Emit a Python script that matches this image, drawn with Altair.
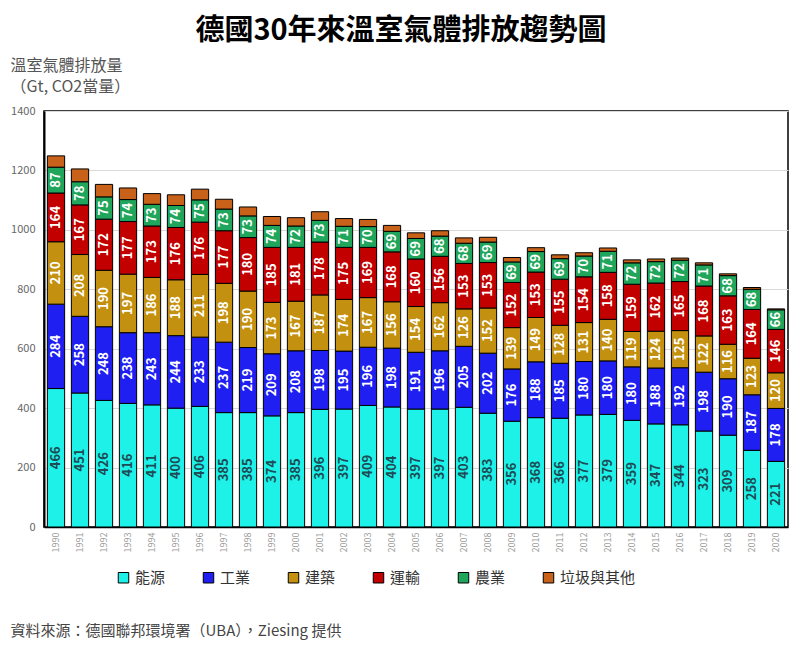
import altair as alt
import pandas as pd

years = [str(y) for y in range(1990, 2021)]
categories = ["能源", "工業", "建築", "運輸", "農業", "垃圾與其他"]
colors = ["#1ef2e8", "#1f1ff2", "#c4900f", "#c20000", "#1fa65c", "#c8621a"]

energy = [466, 451, 426, 416, 411, 400, 406, 385, 385, 374, 385, 396, 397, 409, 404, 397,
          397, 403, 383, 356, 368, 366, 377, 379, 359, 347, 344, 323, 309, 258, 221]
industry = [284, 258, 248, 238, 243, 244, 233, 237, 219, 209, 208, 198, 195, 196, 198, 191,
            196, 205, 202, 176, 188, 185, 180, 180, 180, 188, 192, 198, 190, 187, 178]
buildings = [210, 208, 190, 197, 186, 188, 211, 198, 190, 173, 167, 187, 174, 167, 156, 154,
             162, 126, 152, 139, 149, 128, 131, 140, 119, 124, 125, 122, 116, 123, 120]
transport = [164, 167, 172, 177, 173, 176, 176, 177, 180, 185, 181, 178, 175, 169, 168, 160,
             156, 153, 153, 152, 153, 155, 154, 158, 159, 162, 165, 168, 163, 164, 146]
agriculture = [87, 78, 75, 74, 73, 74, 75, 73, 73, 74, 72, 73, 71, 70, 69, 69,
               68, 68, 69, 69, 69, 69, 70, 71, 72, 72, 72, 71, 68, 68, 66]
waste = [38, 43, 42, 39, 36, 36, 36, 33, 30, 30, 28, 29, 26, 24, 20, 19,
         18, 18, 16, 15, 13, 13, 11, 11, 10, 9, 7, 7, 6, 6, 3]

series = [energy, industry, buildings, transport, agriculture, waste]
rows = []
for ci, (cat, vals) in enumerate(zip(categories, series)):
    for y, v in zip(years, vals):
        rows.append({"year": y, "category": cat, "order": ci, "value": v})
df = pd.DataFrame(rows)

FONT = "Noto Sans CJK TC"

x_enc = alt.X("year:N", sort=years,
              scale=alt.Scale(paddingInner=0.28, paddingOuter=0.14),
              axis=alt.Axis(title="資料來源：德國聯邦環境署（UBA），Ziesing 提供",
                            titleX=-34, titleY=108, titleAngle=0, titleAlign="left",
                            titleBaseline="alphabetic", titleFontSize=15,
                            titleFontWeight="normal", titleColor="#444",
                            labelAngle=270, labelFontSize=9, labelColor="#999",
                            labelPadding=5, ticks=False, domainColor="black",
                            domainWidth=1.5, grid=False))

y_scale = alt.Scale(domain=[0, 1400], nice=False)

bars = alt.Chart(df).mark_bar(stroke="black", strokeWidth=1).encode(
    x=x_enc,
    y=alt.Y("value:Q", stack="zero", scale=y_scale,
            axis=alt.Axis(values=[0, 200, 400, 600, 800, 1000, 1200, 1400], format="d",
                          title=["溫室氣體排放量", "（Gt, CO2當量）"],
                          titleX=-34, titleY=-54, titleAngle=0, titleAlign="left",
                          titleBaseline="top", titleFontSize=16, titleLineHeight=21,
                          titleFontWeight="normal", titleColor="#555",
                          labelFontSize=11, labelColor="#666", labelPadding=9,
                          ticks=False, domainColor="black", domainWidth=2,
                          grid=True, gridColor="#d9d9d9", gridWidth=1)),
    color=alt.Color("category:N", sort=categories,
                    scale=alt.Scale(domain=categories, range=colors),
                    legend=alt.Legend(title=None, orient="none", direction="horizontal",
                                      legendX=72, legendY=459, symbolType="square",
                                      symbolSize=110, symbolStrokeColor="black",
                                      symbolStrokeWidth=1, symbolOpacity=1,
                                      labelFontSize=15, labelColor="#333",
                                      labelOffset=4, columnPadding=35, padding=0)),
    order=alt.Order("order:Q", sort="ascending"),
)

labels = alt.Chart(df).transform_stack(
    stack="value", groupby=["year"], sort=[alt.SortField("order", order="ascending")],
    as_=["y0", "y1"]
).transform_calculate(
    mid="(datum.y0 + datum.y1) / 2"
).transform_filter(
    alt.datum.category != "垃圾與其他"
).mark_text(angle=270, fontSize=13, fontWeight="bold", align="center",
            baseline="middle", font=FONT).encode(
    x=alt.X("year:N", sort=years),
    y=alt.Y("mid:Q", scale=y_scale),
    text=alt.Text("value:Q"),
    color=alt.condition(alt.datum.category == "能源", alt.value("#1f4b54"), alt.value("white")),
)

chart = alt.layer(bars, labels).properties(
    width=744, height=416,
    autosize=alt.AutoSizeParams(type="none"),
    padding={"left": 36, "top": 103, "right": 4, "bottom": 122},
    title=alt.TitleParams("德國30年來溫室氣體排放趨勢圖", fontSize=29, fontWeight="bold",
                          color="black", anchor="middle", dx=-15, offset=11, font=FONT),
).configure(font=FONT).configure_view(stroke="black", strokeWidth=1.5)

chart.save("out.html", embed_options={"renderer": "svg", "actions": False})
